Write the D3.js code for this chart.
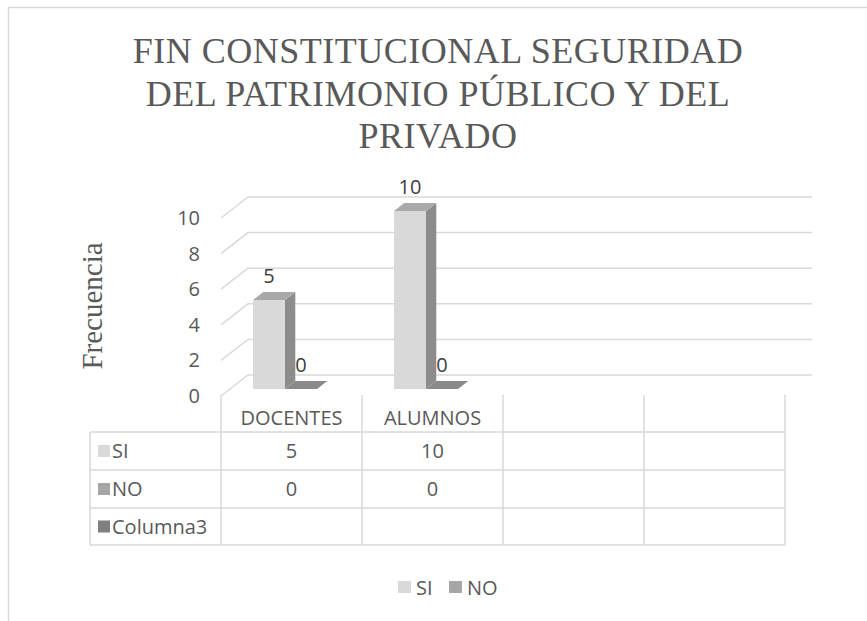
<!DOCTYPE html>
<html>
<head>
<meta charset="utf-8">
<script src="https://cdn.jsdelivr.net/npm/d3@7"></script>
<style>
  body { margin: 0; background: #fff; }
  svg { display: block; }
</style>
</head>
<body>
<svg id="chart" width="867" height="621"></svg>
<script>
// data
let categories = ["DOCENTES", "ALUMNOS", "", ""];
let series = ["SI", "NO"];
let siValues = [5, 10];
let noValues = [0, 0];
let tableRows = ["SI", "NO", "Columna3"];
let yTicks = [0, 2, 4, 6, 8, 10];
let titleLines = ["FIN CONSTITUCIONAL SEGURIDAD", "DEL PATRIMONIO PÚBLICO Y DEL", "PRIVADO"];

let sans = "'Open Sans', 'Noto Sans', sans-serif";
let serif = "'Liberation Serif', 'Times New Roman', serif";
let gridColor = "#d9d9d9";
let keyColors = {"SI": "#d9d9d9", "NO": "#a6a6a6", "Columna3": "#7f7f7f"};

let svg = d3.select("#chart");

// outer frame
svg.append("path")
  .attr("d", "M8.5,621 L8.5,7.5 L867,7.5")
  .attr("fill", "none")
  .attr("stroke", gridColor)
  .attr("stroke-width", 1.5);

// title
svg.append("g").selectAll("text")
  .data(titleLines)
  .enter()
  .append("text")
  .attr("x", 438)
  .attr("y", function(d, i) { return 63 + i * 42.5; })
  .attr("text-anchor", "middle")
  .attr("font-family", serif)
  .attr("font-size", 36)
  .attr("letter-spacing", 0.5)
  .attr("fill", "#595959")
  .text(function(d) { return d; });

// axis title
svg.append("text")
  .attr("transform", "translate(102,306) rotate(-90)")
  .attr("text-anchor", "middle")
  .attr("font-family", serif)
  .attr("font-size", 29)
  .attr("fill", "#595959")
  .text("Frecuencia");

// scales
let DX = 27, DY = 21;
let x = d3.scaleBand().domain(d3.range(categories.length)).range([221, 785]);
let x1 = d3.scaleBand().domain(series).range([23, 87]);
let y = d3.scaleLinear().domain([0, 10]).range([396, 218]);

function P(xf, v, d) {
  return [xf + d * DX, y(v) - d * DY];
}

// walls: back gridlines and side diagonals
let grid = svg.append("g")
  .attr("stroke", gridColor)
  .attr("stroke-width", 1.5)
  .attr("fill", "none");

yTicks.forEach(function(t) {
  let a = P(x.range()[0], t, 0), b = P(x.range()[0], t, 1), c = P(x.range()[1], t, 1);
  grid.append("path").attr("d", "M" + a + "L" + b + "L" + c);
});

// tick labels
svg.append("g").selectAll("text")
  .data(yTicks)
  .enter()
  .append("text")
  .attr("x", 200)
  .attr("y", function(d) { return y(d) + 7; })
  .attr("text-anchor", "end")
  .attr("font-family", sans)
  .attr("font-size", 20)
  .attr("fill", "#595959")
  .text(function(d) { return d; });

// bars
let d0 = 1 / 3, d1 = 5 / 7;
let bars = [];
categories.forEach(function(c, i) {
  if (i < siValues.length) {
    bars.push({cat: i, s: "SI", v: siValues[i]});
    bars.push({cat: i, s: "NO", v: noValues[i]});
  }
});

let topColors = {"SI": "#a9a9a9", "NO": "#8a8a8a"};
let barG = svg.append("g");

bars.forEach(function(b) {
  let xf = x(b.cat) + x1(b.s);
  let w = x1.bandwidth();
  let g = barG.append("g");
  if (b.v > 0) {
    let f0 = P(xf, 0, d0), f1 = P(xf + w, b.v, d0);
    g.append("rect")
      .attr("x", f0[0]).attr("y", f1[1])
      .attr("width", w).attr("height", f0[1] - f1[1])
      .attr("fill", keyColors[b.s]);
    g.append("polygon")
      .attr("points", [P(xf + w, 0, d0), P(xf + w, b.v, d0), P(xf + w, b.v, d1), P(xf + w, 0, d1)].join(" "))
      .attr("fill", "#8c8c8c");
  }
  g.append("polygon")
    .attr("points", [P(xf, b.v, d0), P(xf + w, b.v, d0), P(xf + w, b.v, d1), P(xf, b.v, d1)].join(" "))
    .attr("fill", topColors[b.s]);

  g.append("text")
    .attr("x", P(xf + w / 2, b.v, d0)[0])
    .attr("y", P(xf, b.v, d1)[1] - 9)
    .attr("text-anchor", "middle")
    .attr("font-family", sans)
    .attr("font-size", 20)
    .attr("fill", "#404040")
    .text(b.v);
});

// data table
let rowY = [432, 470, 508, 545];
let tableLeft = 90;
let cols = d3.range(categories.length + 1).map(function(i) {
  return i < categories.length ? x(i) : x.range()[1];
});

let table = svg.append("g")
  .attr("stroke", gridColor)
  .attr("stroke-width", 1.5);

cols.forEach(function(cx) {
  table.append("line")
    .attr("x1", cx).attr("x2", cx)
    .attr("y1", 395).attr("y2", rowY[rowY.length - 1]);
});
table.append("line")
  .attr("x1", tableLeft).attr("x2", tableLeft)
  .attr("y1", rowY[0]).attr("y2", rowY[rowY.length - 1]);
rowY.forEach(function(ry) {
  table.append("line")
    .attr("x1", tableLeft).attr("x2", x.range()[1])
    .attr("y1", ry).attr("y2", ry);
});

let textG = svg.append("g")
  .attr("font-family", sans)
  .attr("font-size", 20)
  .attr("fill", "#595959");

categories.forEach(function(c, i) {
  textG.append("text")
    .attr("x", x(i) + x.bandwidth() / 2)
    .attr("y", 425)
    .attr("text-anchor", "middle")
    .text(c);
});

let rowValues = [siValues, noValues, []];
tableRows.forEach(function(r, j) {
  let cy = (rowY[j] + rowY[j + 1]) / 2;
  svg.append("rect")
    .attr("x", 98).attr("y", cy - 6)
    .attr("width", 12).attr("height", 12)
    .attr("fill", keyColors[r]);
  textG.append("text")
    .attr("x", 112)
    .attr("y", cy + 7)
    .text(r);
  rowValues[j].forEach(function(v, i) {
    textG.append("text")
      .attr("x", x(i) + x.bandwidth() / 2)
      .attr("y", cy + 7)
      .attr("text-anchor", "middle")
      .text(v);
  });
});

// legend
let legendX = [398, 449];
series.forEach(function(s, i) {
  svg.append("rect")
    .attr("x", legendX[i]).attr("y", 581)
    .attr("width", 13).attr("height", 12)
    .attr("fill", keyColors[s]);
  textG.append("text")
    .attr("x", legendX[i] + 18)
    .attr("y", 595)
    .text(s);
});
</script>
</body>
</html>
